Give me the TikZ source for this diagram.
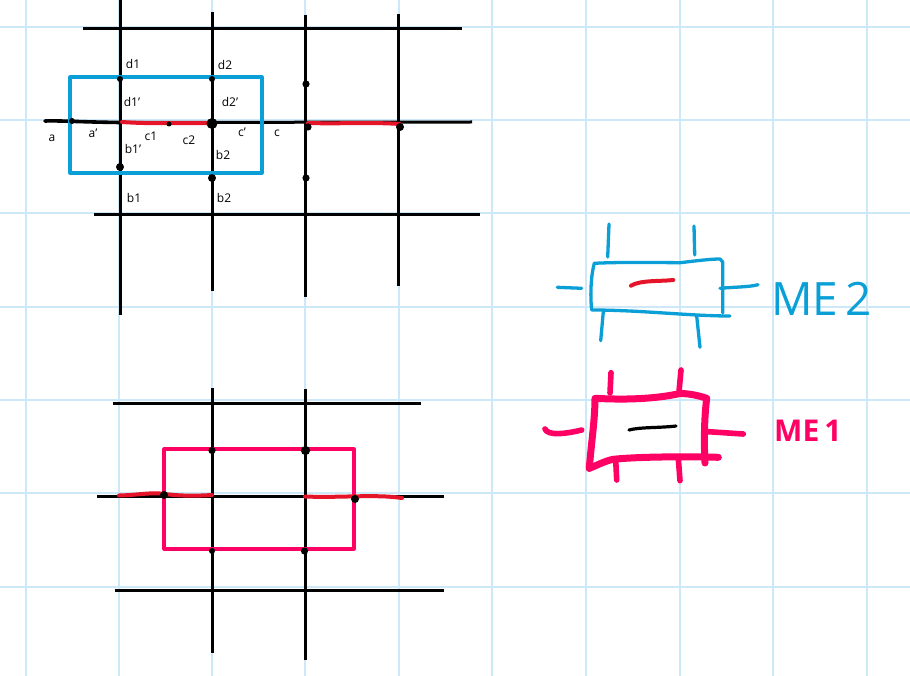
\documentclass[tikz,border=0pt]{standalone}
\usepackage{fontspec}
\setmainfont{Open Sans}
\definecolor{gridc}{RGB}{205,232,248}
\definecolor{blu}{RGB}{10,160,215}
\definecolor{pnk}{RGB}{255,0,100}
\definecolor{rd}{RGB}{230,20,40}
\tikzset{
  gridline/.style={draw=gridc,line width=1.8pt},
  blk/.style={draw=black,line width=3pt},
  blurect/.style={draw=blu,line width=3.05pt,line join=round},
  pnkrect/.style={draw=pnk,line width=3.05pt,line join=round},
  redline/.style={draw=rd,line width=4pt,line cap=round},
  bluink/.style={draw=blu,line width=3.3pt,line cap=round,line join=round},
  pnkink/.style={draw=pnk,line width=7pt,line cap=round,line join=round},
  pnktick/.style={draw=pnk,line width=5.6pt,line cap=round,line join=round},
  lab/.style={inner sep=0pt,font=\fontsize{12}{12}\selectfont,text=black},
  dot/.style={fill=black,draw=none}
}
\begin{document}
\begin{tikzpicture}[x=1pt,y=-1pt]
\useasboundingbox (0,0) rectangle (910,676);
\fill[white] (0,0) rectangle (910,676);
% grid
\foreach \x in {26,119,212,305,399,492,586,680,773,867}
  \draw[gridline] (\x,0) -- (\x,676);
\foreach \y in {27,120,213,307,400,493,587}
  \draw[gridline] (0,\y) -- (910,\y);
% top figure
\draw[blk] (83,29) -- (462,29);
\draw[blk] (120,122.5) -- (472,122);
\draw[blk,line width=3.6pt,line cap=round] (45,121) .. controls (60,120.5) and (80,122) .. (120,122.5);
\draw[blk] (94,215) -- (480,215);
\draw[blk] (120,0) -- (120,315);
\draw[blk] (212,12) -- (212,291);
\draw[blk] (305,15) -- (305,297);
\draw[blk] (398,14) -- (398,286);
\draw[blurect] (70,77) rectangle (262,173);
\draw[redline] (122,122) .. controls (150,124) and (180,123) .. (212,123);
\draw[redline] (308,123) .. controls (340,124) and (370,122) .. (400,124);
\foreach \p/\r in {{120,79}/3,{212,79}/3,{72,121}/3,{212,123.5}/5.5,{169,124}/2.5,{120,167}/4,{212,178}/4,{306,84}/3.6,{306,178}/3.6,{308,127}/3.6,{400,127}/4}
  \fill[dot] (\p) circle (\r);
\node[lab] (d1) at (133,64) {d1};
\node[lab] (d2) at (225,65) {d2};
\node[lab] (d1p) at (132,102) {d1'};
\node[lab] (d2p) at (230,102) {d2'};
\node[lab] (a) at (52,138) {a};
\node[lab] (ap) at (93,133) {a'};
\node[lab] (c1) at (151,136) {c1};
\node[lab] (c2) at (189,140) {c2};
\node[lab] (cp) at (242,132) {c'};
\node[lab] (c) at (277,133) {c};
\node[lab] (b1p) at (133,149) {b1'};
\node[lab] (b2p) at (223,155) {b2};
\node[lab] (b1) at (134,198) {b1};
\node[lab] (b2) at (224,198) {b2};
% bottom figure
\draw[blk] (113,403) -- (421,403);
\draw[blk] (97,496) -- (444,496);
\draw[blk] (115,590) -- (444,590);
\draw[blk] (212,388) -- (212,653);
\draw[blk] (305,389) -- (305,660);
\draw[pnkrect] (164,449) rectangle (354,549);
\draw[redline] (119,495.5) .. controls (140,495) and (150,492) .. (165,494) .. controls (180,496) and (195,496) .. (212,495);
\draw[redline] (305,496.5) .. controls (340,498) and (375,494) .. (402,498);
\foreach \p/\r in {{212,450.5}/3.6,{305.5,450.5}/4.6,{164,495}/4,{355,499}/4,{212,551}/3,{304.5,551}/3.6}
  \fill[dot] (\p) circle (\r);
% ME2 symbol
\draw[bluink] (594.3,263.3) .. controls (620,262) and (650,262.5) .. (680,262.7) .. controls (695,261) and (710,259) .. (720,259) -- (722.7,262) -- (722.7,313);
\draw[bluink] (594.3,263.3) .. controls (591,275) and (590,295) .. (591.7,310) .. controls (640,310) and (690,316) .. (730,316);
\draw[bluink] (609,224) -- (607.7,257);
\draw[bluink] (694,226) -- (694.7,255);
\draw[bluink] (557.3,287.3) -- (581.7,288.3);
\draw[bluink] (720,288.3) .. controls (735,287) and (750,287) .. (758,284.7);
\draw[bluink] (603.3,311.7) -- (600.7,340.7);
\draw[bluink] (696.7,316) -- (700,347.3);
\draw[redline] (631,285.7) .. controls (640,280) and (660,281.5) .. (673.3,280);
\node[inner sep=0pt,text=blu,anchor=west,font=\fontsize{46}{46}\selectfont] (me2) at (771,298.5) {ME\,2};
% ME1 symbol
\draw[pnkink] (589.3,468.3) .. controls (591,445) and (595,420) .. (595,398.3) .. controls (625,400) and (655,399) .. (680,393.5) .. controls (690,393.5) and (700,396) .. (706.7,398.3) .. controls (704,420) and (704,445) .. (705,463);
\draw[pnkink] (589.3,468.3) .. controls (600,464) and (605,461) .. (613.3,459.3) .. controls (640,456.5) and (690,456.5) .. (718.3,457.3);
\draw[pnktick] (611,372.7) -- (610,393);
\draw[pnktick] (681,370) -- (679,391.7);
\draw[pnktick] (545,429) .. controls (548,436) and (565,434) .. (581.7,430);
\draw[pnktick] (708.3,431.7) -- (743.3,434);
\draw[pnktick] (615.7,460) -- (616.7,480);
\draw[pnktick] (678.3,458.3) -- (680,480.7);
\draw[black,line width=3.2pt,line cap=round] (629,430) .. controls (640,427) and (660,428) .. (676,426);
\node[inner sep=0pt,text=pnk,anchor=west,font=\fontsize{30}{30}\selectfont\bfseries] (me1) at (774,431) {ME\,1};
\end{tikzpicture}
\end{document}
